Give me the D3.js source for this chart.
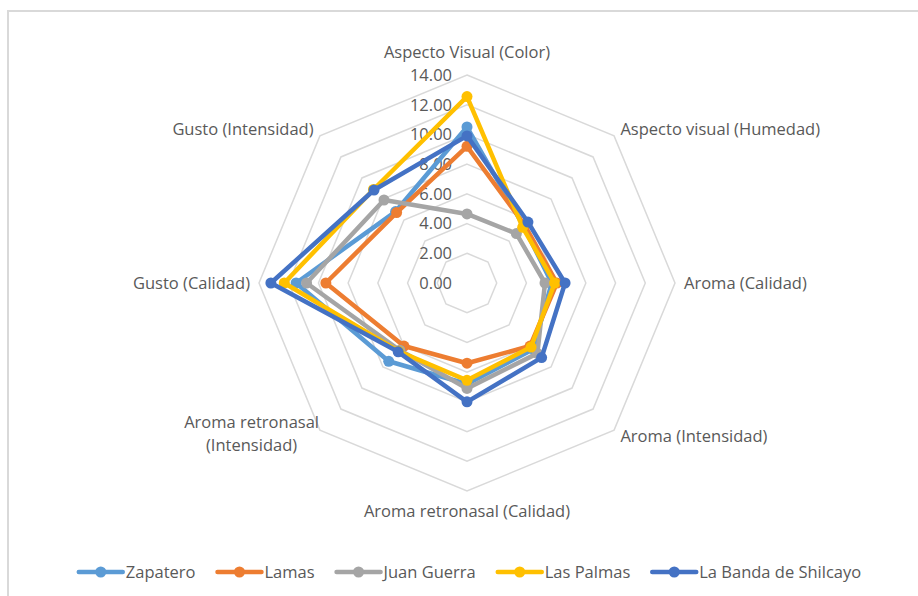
<!DOCTYPE html>
<html>
<head>
<meta charset="utf-8">
<script src="https://cdn.jsdelivr.net/npm/d3@7"></script>
<style>
  body { margin: 0; background: #fff; }
  text { font-family: "Open Sans", "Noto Sans", sans-serif; fill: #595959; }
</style>
</head>
<body>
<div id="chart"></div>
<script>
const width = 918;
const height = 596;

// axes, clockwise from top
const categories = [
    "Aspecto Visual (Color)",
    "Aspecto visual (Humedad)",
    "Aroma (Calidad)",
    "Aroma (Intensidad)",
    "Aroma retronasal (Calidad)",
    "Aroma retronasal (Intensidad)",
    "Gusto (Calidad)",
    "Gusto (Intensidad)"
];

const seriesNames = ["Zapatero", "Lamas", "Juan Guerra", "Las Palmas", "La Banda de Shilcayo"];
const zapatero = [10.5, 5.4, 5.7, 6.3, 6.8, 7.45, 11.5, 6.8];
const lamas = [9.2, 5.5, 6.05, 6.0, 5.4, 6.0, 9.5, 6.7];
const juanGuerra = [4.65, 4.7, 5.25, 6.7, 7.1, 6.4, 10.8, 7.9];
const lasPalmas = [12.55, 5.3, 5.9, 6.1, 6.55, 6.5, 12.3, 8.9];
const laBanda = [9.9, 5.8, 6.6, 7.1, 8.0, 6.55, 13.2, 8.85];
const seriesValues = [zapatero, lamas, juanGuerra, lasPalmas, laBanda];
const colors = ["#5B9BD5", "#ED7D31", "#A5A5A5", "#FFC000", "#4472C4"];

const ticks = [0, 2, 4, 6, 8, 10, 12, 14];

const cx = 467, cy = 283;
const outerR = 208;
const fontSize = "16.5px";

const svg = d3.select("#chart").append("svg")
    .attr("width", width)
    .attr("height", height);

// chart border (right/bottom edges are off the picture)
svg.append("rect")
    .attr("x", 8).attr("y", 11)
    .attr("width", width + 10).attr("height", height + 10)
    .attr("fill", "none")
    .attr("stroke", "#D9D9D9")
    .attr("stroke-width", 2);

const r = d3.scaleLinear().domain([0, 14]).range([0, outerR]);
const angle = d3.scalePoint().domain(categories).range([0, 2 * Math.PI * 7 / 8]);

const g = svg.append("g").attr("transform", `translate(${cx},${cy})`);

const radial = d3.lineRadial()
    .angle((d, i) => angle(categories[i]))
    .radius(d => r(d))
    .curve(d3.curveLinearClosed);

// grid octagons
g.append("g").selectAll("path")
    .data(ticks)
    .join("path")
    .attr("d", t => radial(categories.map(() => t)))
    .attr("fill", "none")
    .attr("stroke", "#D9D9D9")
    .attr("stroke-width", 1.5);

// tick labels
g.append("g").selectAll("text")
    .data(ticks)
    .join("text")
    .attr("x", -15)
    .attr("y", t => -r(t))
    .attr("dy", "0.35em")
    .attr("text-anchor", "end")
    .style("font-size", fontSize)
    .text(t => d3.format(".2f")(t));

// category labels
const labelR = outerR + 9;
categories.forEach((c, i) => {
    const a = angle(c);
    const x = labelR * Math.sin(a);
    const y = -labelR * Math.cos(a);
    let anchor = "middle";
    if (x > 1) anchor = "start";
    if (x < -1) anchor = "end";
    const t = g.append("text")
        .attr("text-anchor", anchor)
        .style("font-size", fontSize);
    if (c === "Aroma retronasal (Intensidad)") {
        ["Aroma retronasal", "(Intensidad)"].forEach((l, k) => {
            t.append("tspan")
                .attr("x", x - 62)
                .attr("y", y + (k === 0 ? -8 : 15))
                .attr("text-anchor", "middle")
                .text(l);
        });
    } else {
        let dy0 = "0.35em";
        if (i === 0) dy0 = "-0.5em";
        if (i === 4) dy0 = "1.05em";
        t.attr("x", x).attr("y", y).attr("dy", dy0).text(c);
    }
});

// series
const sg = g.append("g").selectAll("g")
    .data(seriesValues)
    .join("g");

sg.append("path")
    .attr("d", d => radial(d))
    .attr("fill", "none")
    .attr("stroke", (d, i) => colors[i])
    .attr("stroke-width", 4.5)
    .attr("stroke-linejoin", "round");

sg.each(function(d, si) {
    d3.select(this).selectAll("circle")
        .data(d)
        .join("circle")
        .attr("cx", (v, i) => r(v) * Math.sin(angle(categories[i])))
        .attr("cy", (v, i) => -r(v) * Math.cos(angle(categories[i])))
        .attr("r", 5.5)
        .attr("fill", colors[si]);
});

// legend
const legendGap = 22;
const legend = svg.append("g").attr("transform", `translate(0,572)`);
let lx = 0;
seriesNames.forEach((name, i) => {
    const item = legend.append("g").attr("transform", `translate(${lx},0)`);
    item.append("line")
        .attr("x1", 0).attr("x2", 44)
        .attr("stroke", colors[i]).attr("stroke-width", 4.5)
        .attr("stroke-linecap", "round");
    item.append("circle").attr("cx", 22).attr("r", 5.5).attr("fill", colors[i]);
    const t = item.append("text")
        .attr("x", 47).attr("dy", "0.35em")
        .style("font-size", fontSize)
        .text(name);
    lx += 47 + t.node().getComputedTextLength() + legendGap;
});
const legendW = lx - legendGap;
legend.attr("transform", `translate(${470 - legendW / 2},572)`);
</script>
</body>
</html>
